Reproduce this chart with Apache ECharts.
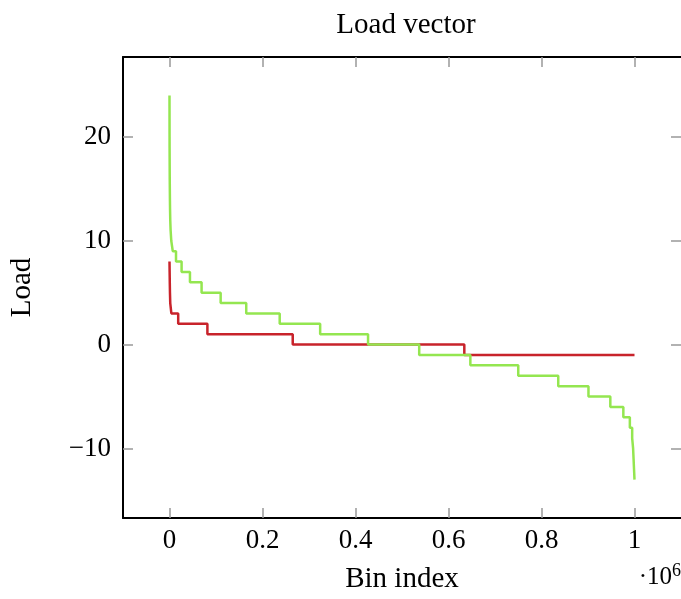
<!DOCTYPE html>
<html>
<head>
<meta charset="utf-8">
<title>Load vector</title>
<script src="https://cdn.jsdelivr.net/npm/echarts@6/dist/echarts.min.js"></script>
<style>
    html, body { margin: 0; padding: 0; background: #fff; }
    #cn { width: 681px; height: 599px; }
</style>
</head>
<body>
<div id="cn"></div>
<script>
'use strict';

// bin index (x 10^6) where each load level starts, sorted load vector
const greenBinStart = [
    0, 0.00003, 0.00006, 0.0001, 0.00015, 0.0002, 0.0003, 0.0004, 0.0005, 0.0007,
    0.0009, 0.0012, 0.0016, 0.0024, 0.0038, 0.007, 0.014, 0.026, 0.044, 0.069,
    0.110, 0.165, 0.237, 0.324, 0.427, 0.537, 0.647, 0.750, 0.836, 0.901,
    0.948, 0.976, 0.990, 0.995, 0.997, 0.998, 0.999, 1.0
];
const greenLoad = [
    24, 23, 22, 21, 20, 19, 18, 17, 16, 15,
    14, 13, 12, 11, 10, 9, 8, 7, 6, 5,
    4, 3, 2, 1, 0, -1, -2, -3, -4, -5,
    -6, -7, -8, -9, -10, -11, -12, -13
];

const redBinStart = [0, 0.0003, 0.0006, 0.001, 0.0016, 0.004, 0.0187, 0.0815, 0.265, 0.634, 1.0];
const redLoad = [8, 7, 6, 5, 4, 3, 2, 1, 0, -1, -1];

const xTicks = [0, 0.2, 0.4, 0.6, 0.8, 1];
const yTicks = [-10, 0, 10, 20];

const FONT = '"Liberation Serif", "DejaVu Serif", serif';
const minus = v => String(v).replace('-', '\u2212');

const tickStyle = {
    show: true,
    inside: true,
    length: 10,
    lineStyle: { color: '#999', width: 1.5 }
};
// box frame, never on zero
const frameLine = { show: true, onZero: false, lineStyle: { color: '#000', width: 2 } };

const chart = echarts.init(document.getElementById('cn'));

let option = {
    animation: false,
    backgroundColor: '#fff',
    title: {
        text: 'Load vector',
        left: 401,
        top: 6,
        textAlign: 'center',
        textStyle: { fontFamily: FONT, fontSize: 29, fontWeight: 'normal', color: '#000' }
    },
    grid: { left: 121, right: 0, top: 57, bottom: 78 },
    xAxis: [
        {
            type: 'value',
            min: -0.1,
            max: 1.1,
            name: 'Bin index',
            nameLocation: 'middle',
            nameGap: 47,
            nameTextStyle: { fontFamily: FONT, fontSize: 29, color: '#000' },
            axisLine: frameLine,
            axisTick: Object.assign({ customValues: xTicks }, tickStyle),
            axisLabel: {
                customValues: xTicks,
                margin: 9,
                fontFamily: FONT,
                fontSize: 27,
                color: '#000',
                formatter: v => String(v)
            },
            splitLine: { show: false }
        },
        {
            type: 'value',
            position: 'top',
            min: -0.1,
            max: 1.1,
            axisLine: frameLine,
            axisTick: Object.assign({ customValues: xTicks }, tickStyle),
            axisLabel: { show: false },
            splitLine: { show: false }
        }
    ],
    yAxis: [
        {
            type: 'value',
            min: -16.7,
            max: 27.7,
            name: 'Load',
            nameLocation: 'middle',
            nameGap: 86,
            nameTextStyle: { fontFamily: FONT, fontSize: 29, color: '#000' },
            axisLine: frameLine,
            axisTick: Object.assign({ customValues: yTicks }, tickStyle),
            axisLabel: {
                customValues: yTicks,
                margin: 12,
                fontFamily: FONT,
                fontSize: 27,
                color: '#000',
                formatter: minus
            },
            splitLine: { show: false }
        },
        {
            // right side of the box is cropped in the picture, only ticks show
            type: 'value',
            position: 'right',
            min: -16.7,
            max: 27.7,
            axisLine: { show: false, onZero: false },
            axisTick: Object.assign({ customValues: yTicks }, tickStyle),
            axisLabel: { show: false },
            splitLine: { show: false }
        }
    ],
    graphic: [{
        type: 'text',
        right: 0,
        top: 562,
        style: {
            text: '\u00b710{s|6}',
            fontFamily: FONT,
            fontSize: 25,
            fill: '#000',
            rich: {
                s: { fontFamily: FONT, fontSize: 18, verticalAlign: 'top', padding: [0, 0, 12, 0] }
            }
        }
    }],
    series: [
        {
            name: 'red',
            type: 'line',
            step: 'end',
            showSymbol: false,
            data: _zip(redBinStart, redLoad),
            lineStyle: { color: '#c8232b', width: 2.5 },
            itemStyle: { color: '#c8232b' }
        },
        {
            name: 'green',
            type: 'line',
            step: 'end',
            showSymbol: false,
            data: _zip(greenBinStart, greenLoad),
            lineStyle: { color: '#94e650', width: 2.5 },
            itemStyle: { color: '#94e650' }
        }
    ]
};

function _zip(a, b) {
    return a.map((x, i) => [x, b[i]]);
}

chart.setOption(option);
</script>
</body>
</html>
